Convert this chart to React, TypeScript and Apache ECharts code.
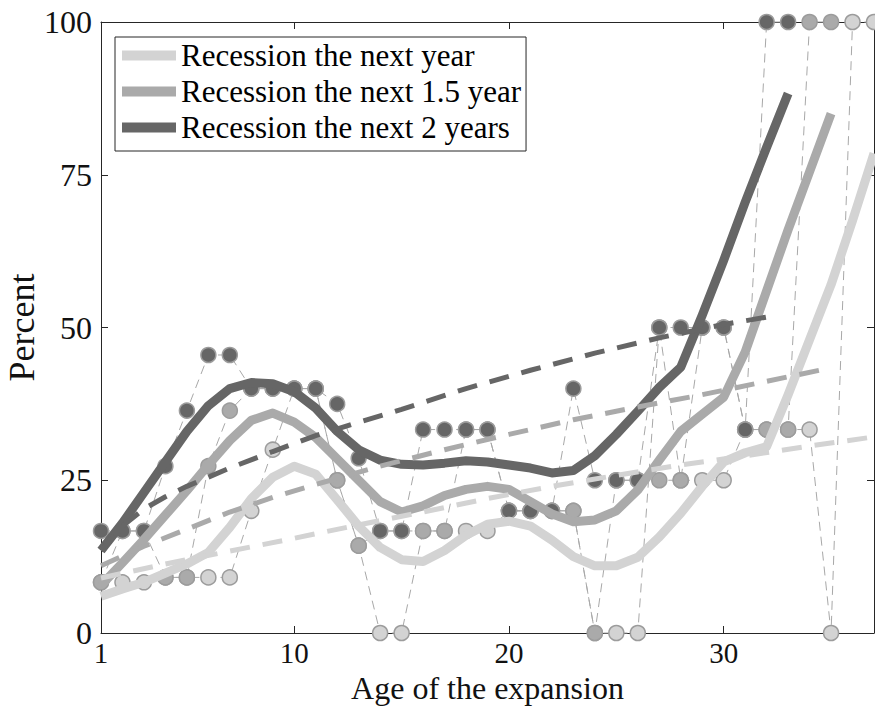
import React, { useEffect, useRef } from "react";
import * as echarts from "echarts";

// Age of the expansion (years)
const ages = [1, 2, 3, 4, 5, 6, 7, 8, 9, 10, 11, 12, 13, 14, 15, 16, 17, 18, 19, 20, 21, 22, 23, 24, 25, 26, 27, 28, 29, 30, 31, 32, 33, 34, 35, 36, 37];

// Observed shares (percent) – markers
const lightPts = [8.3, 8.3, 8.3, 9.1, 9.1, 9.1, 9.1, 20, 30, 40, 40, 25, 14.3, 0, 0, 16.7, 16.7, 16.7, 16.7, 20, 20, 20, 20, 0, 0, 0, 50, 25, 25, 25, 33.3, 33.3, 33.3, 33.3, 0, 100, 100];
const mediumPts = [8.3, 16.7, 16.7, 9.1, 9.1, 27.3, 36.4, 40, 40, 40, 40, 25, 14.3, 16.7, 16.7, 16.7, 16.7, 33.3, 33.3, 20, 20, 20, 20, 0, 25, 25, 25, 25, 50, 50, 33.3, 33.3, 33.3, 100, 100];
const darkPts = [16.7, 16.7, 16.7, 27.3, 36.4, 45.5, 45.5, 40, 40, 40, 40, 37.5, 28.6, 16.7, 16.7, 33.3, 33.3, 33.3, 33.3, 20, 20, 20, 40, 25, 25, 25, 50, 50, 50, 50, 33.3, 100, 100];

// Smoothed probabilities (thick solid lines)
const lightSmooth = [6, 7.2, 8.3, 9.8, 11.3, 13.2, 17.3, 22, 25.5, 27.3, 26, 21.8, 17.5, 14, 12, 11.7, 13.5, 16, 17.8, 18.3, 17.5, 15.2, 12.5, 11, 11, 12.4, 15.7, 19.6, 24, 28, 29.5, 30.5, 39, 48, 57, 67.5, 78.5];
const mediumSmooth = [7.8, 11.5, 15.3, 19.3, 23.3, 27.5, 31.5, 34.8, 36, 34.5, 32, 28.5, 25, 21.5, 19.8, 20.8, 22.5, 23.5, 24, 23.5, 21.5, 19.5, 18.2, 18.5, 20, 23.4, 28.3, 33, 35.8, 38.6, 46, 56, 66, 75.5, 85];
const darkSmooth = [13.5, 18, 23, 28, 33, 37.2, 40, 41, 40.8, 39.5, 36.8, 33, 30, 28.3, 27.6, 27.5, 27.8, 28.2, 28, 27.5, 27, 26.2, 26.6, 29, 32.5, 36.3, 40.2, 43.5, 52, 61, 70.5, 79.5, 88.3];

// Trend lines (thick dashed)
const lightTrendX = [1, 4, 7, 10, 13, 16, 19, 22, 25, 28, 31, 34, 37];
const lightTrendY = [9, 11.3, 13.4, 15.5, 17.7, 19.8, 22, 24, 25.8, 27.5, 29, 30.6, 32.1];
const mediumTrendX = [1, 3, 5, 7, 9, 11, 14, 17, 20, 23, 26, 29, 32, 35];
const mediumTrendY = [11, 14.2, 17, 19.8, 22.2, 24.3, 27.3, 30, 32.5, 34.9, 37, 39, 41.2, 43.4];
const darkTrendX = [1, 2, 3, 4, 5, 7, 9, 11, 13, 15, 18, 21, 24, 27, 30, 32];
const darkTrendY = [13.5, 17.5, 20.3, 22.3, 24, 27, 29.7, 32.3, 34.5, 36.6, 40, 43, 45.8, 48.3, 50.5, 51.7];

const xTicks = [1, 10, 20, 30];
const legendNames = ["Recession the next year", "Recession the next 1.5 year", "Recession the next 2 years"];

const LIGHT = "#d3d3d3";
const MEDIUM = "#aaaaaa";
const DARK = "#666666";
const AXIS = "#262626";
const FONT = "'Liberation Serif', 'DejaVu Serif', serif";

const pairs = (xs: number[], ys: number[]) => ys.map((y, i) => [xs[i], y]);

export default function App() {
  const ref = useRef<HTMLDivElement>(null);
  useEffect(() => {
    if (!ref.current) return;
    const chart = echarts.init(ref.current, undefined, { renderer: "svg" });

    const pointSeries = (name: string, ys: number[], fill: string) => ({
      name,
      type: "line",
      data: pairs(ages, ys),
      symbol: "circle",
      symbolSize: 15,
      showSymbol: true,
      clip: false,
      z: 2,
      lineStyle: { color: "#a8a8a8", width: 1, type: [9, 6] },
      itemStyle: { color: fill, borderColor: "#9c9c9c", borderWidth: 1.5 },
      emphasis: { disabled: true },
      silent: true,
    });
    const smoothSeries = (name: string, ys: number[], color: string) => ({
      name,
      type: "line",
      data: pairs(ages, ys),
      showSymbol: false,
      symbol: "none",
      z: 3,
      color,
      lineStyle: { color, width: 9, cap: "butt", join: "round" },
      itemStyle: { color },
      emphasis: { disabled: true },
      silent: true,
    });
    const trendSeries = (name: string, xs: number[], ys: number[], color: string) => ({
      name,
      type: "line",
      data: pairs(xs, ys),
      showSymbol: false,
      symbol: "none",
      z: 4,
      lineStyle: { color, width: 5, type: [20, 13], cap: "butt" },
      emphasis: { disabled: true },
      silent: true,
    });

    chart.setOption({
      animation: false,
      backgroundColor: "#ffffff",
      textStyle: { fontFamily: FONT },
      grid: { left: 101, top: 22, width: 773, height: 611, containLabel: false, outerBoundsMode: "none" },
      legend: {
        show: true,
        orient: "vertical",
        left: 115,
        top: 37,
        backgroundColor: "#ffffff",
        borderColor: AXIS,
        borderWidth: 1,
        borderRadius: 0,
        padding: [3, 5, 8, 7],
        itemWidth: 54,
        itemHeight: 10,
        itemGap: 5,
        selectedMode: false,
        textStyle: { fontFamily: FONT, fontSize: 31, color: "#000", lineHeight: 30 },
        data: [
          { name: legendNames[0], icon: "rect", itemStyle: { color: LIGHT } },
          { name: legendNames[1], icon: "rect", itemStyle: { color: MEDIUM } },
          { name: legendNames[2], icon: "rect", itemStyle: { color: DARK } },
        ],
      },
      xAxis: [
        {
          type: "value",
          min: 1,
          max: 37,
          name: "Age of the expansion",
          nameLocation: "middle",
          nameGap: 37,
          nameMoveOverlap: false,
          nameTextStyle: { fontFamily: FONT, fontSize: 32, color: "#111", lineHeight: 36 },
          axisLine: { show: true, onZero: false, lineStyle: { color: AXIS, width: 1 } },
          axisTick: { show: true, inside: true, length: 7, customValues: xTicks, lineStyle: { color: AXIS } },
          axisLabel: { show: true, margin: 6, customValues: xTicks, fontFamily: FONT, fontSize: 29, color: "#111", lineHeight: 28 },
          splitLine: { show: false },
        },
        {
          type: "value",
          min: 1,
          max: 37,
          position: "top",
          axisLine: { show: true, onZero: false, lineStyle: { color: AXIS, width: 1 } },
          axisTick: { show: true, inside: true, length: 7, customValues: xTicks, lineStyle: { color: AXIS } },
          axisLabel: { show: false },
          splitLine: { show: false },
        },
      ],
      yAxis: [
        {
          type: "value",
          min: 0,
          max: 100,
          interval: 25,
          name: "Percent",
          nameLocation: "middle",
          nameRotate: 90,
          nameGap: 60,
          nameMoveOverlap: false,
          nameTextStyle: { fontFamily: FONT, fontSize: 36, color: "#111", lineHeight: 38 },
          axisLine: { show: true, onZero: false, lineStyle: { color: AXIS, width: 1 } },
          axisTick: { show: true, inside: true, length: 7, lineStyle: { color: AXIS } },
          axisLabel: { show: true, margin: 9, fontFamily: FONT, fontSize: 32, color: "#111", lineHeight: 26 },
          splitLine: { show: false },
        },
        {
          type: "value",
          min: 0,
          max: 100,
          interval: 25,
          position: "right",
          axisLine: { show: true, onZero: false, lineStyle: { color: AXIS, width: 1 } },
          axisTick: { show: true, inside: true, length: 7, lineStyle: { color: AXIS } },
          axisLabel: { show: false },
          splitLine: { show: false },
        },
      ],
      series: [
        pointSeries("pts1", lightPts, LIGHT),
        pointSeries("pts15", mediumPts, MEDIUM),
        pointSeries("pts2", darkPts, DARK),
        smoothSeries(legendNames[0], lightSmooth, LIGHT),
        smoothSeries(legendNames[1], mediumSmooth, MEDIUM),
        smoothSeries(legendNames[2], darkSmooth, DARK),
        trendSeries("trend1", lightTrendX, lightTrendY, LIGHT),
        trendSeries("trend15", mediumTrendX, mediumTrendY, MEDIUM),
        trendSeries("trend2", darkTrendX, darkTrendY, DARK),
      ],
    });
    return () => chart.dispose();
  }, []);
  return (
    <div
      ref={ref}
      style={{ position: "absolute", left: 0, top: 0, width: 875, height: 707 }}
    />
  );
}
